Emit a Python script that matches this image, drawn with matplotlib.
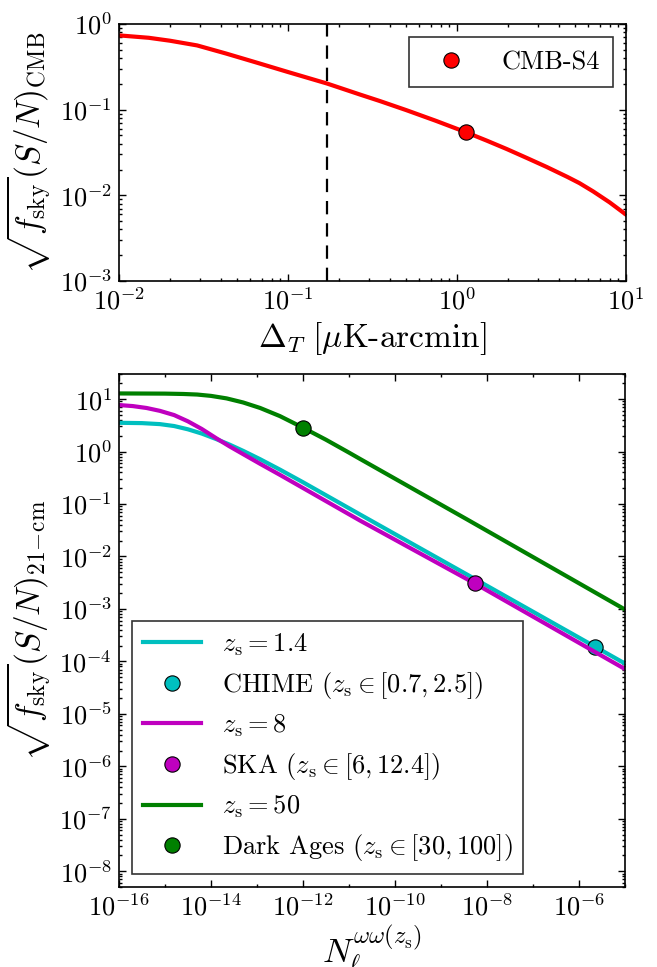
import numpy as np
import matplotlib
matplotlib.use("Agg")
import matplotlib.pyplot as plt
from matplotlib.ticker import LogLocator, NullFormatter

plt.rcParams['font.family'] = 'serif'
plt.rcParams['font.serif'] = ['cmr10', 'DejaVu Serif']
plt.rcParams['mathtext.fontset'] = 'cm'
plt.rcParams['axes.unicode_minus'] = False
plt.rcParams['axes.formatter.use_mathtext'] = True

# top panel: CMB
dT = [0.01, 0.015, 0.02, 0.029, 0.043, 0.065, 0.1, 0.17, 0.267, 0.35, 0.5, 0.75, 1.125, 1.5,
      1.97, 2.6, 3.4, 4.5, 5.3, 6.4, 8.0, 10.0]
sn_cmb = [0.736, 0.690, 0.638, 0.562, 0.452, 0.355, 0.275, 0.202, 0.150, 0.126, 0.0989, 0.0741,
          0.0547, 0.0435, 0.0347, 0.0272, 0.0214, 0.0164, 0.0139, 0.0111, 0.00828, 0.00596]
s4_dT = 1.125
s4_sn = 0.0543
dT_line = 0.17

# bottom panel: 21-cm
N_c = [1e-16, 10**-15.5, 10**-15.11, 10**-14.8, 10**-14.5, 10**-14.2, 10**-13.88, 10**-13.6,
       10**-13.3, 10**-12.93, 10**-12.5, 1e-12, 10**-10.76, 10**-8.26, 10**-5.65, 1e-5]
sn_c = [3.53, 3.48, 3.33, 3.06, 2.65, 2.20, 1.72, 1.36, 1.03, 0.713, 0.452, 0.260, 0.0632,
        3.72e-3, 1.91e-4, 9.12e-5]
N_m = [1e-16, 10**-15.7, 10**-15.4, 10**-15.11, 10**-14.8, 10**-14.5, 10**-14.2, 10**-13.88,
       10**-13.6, 10**-13.3, 10**-12.93, 10**-12.5, 1e-12, 10**-10.76, 10**-8.26, 1e-5]
sn_m = [7.69, 7.35, 6.76, 5.96, 4.95, 3.76, 2.69, 1.78, 1.26, 0.891, 0.582, 0.359, 0.202, 0.0484,
        3.05e-3, 7.16e-5]
N_g = [1e-16, 1e-15, 10**-14.6, 10**-14.3, 1e-14, 10**-13.66, 10**-13.3, 10**-12.93, 10**-12.5,
       1e-12, 10**-11.5, 1e-11, 10**-10.76, 10**-8.44, 1e-5]
sn_g = [12.8, 12.7, 12.5, 12.2, 11.5, 10.3, 8.61, 6.76, 4.73, 2.85, 1.68, 0.955, 0.724, 0.0513, 9.77e-4]
chime = (2.24e-6, 1.87e-4)
ska = (5.5e-9, 3.1e-3)
dark = (1e-12, 2.8)

fig = plt.figure(figsize=(6.57, 9.67), dpi=100)
fig.patch.set_facecolor('white')

def style(ax):
    ax.tick_params(which='both', direction='in', top=True, right=True, labelsize=19, width=1, pad=5)
    ax.tick_params(which='major', length=5)
    ax.tick_params(which='minor', length=2.5)
    for s in ax.spines.values():
        s.set_linewidth(1.2)

ax1 = fig.add_axes([0.1811, 0.7094, 0.7717, 0.2658])
ax1.plot(dT, sn_cmb, color='r', lw=3)
ax1.axvline(dT_line, color='k', ls='--', lw=1.6, dashes=(6, 4))
ax1.plot([s4_dT], [s4_sn], 'o', color='r', mec='k', mew=0.8, ms=11, ls='none', label='CMB-S4')
ax1.set_xscale('log')
ax1.set_yscale('log')
ax1.set_xlim(1e-2, 1e1)
ax1.set_ylim(1e-3, 1e0)
ax1.set_xlabel(r'$\Delta_T\ [\mu$K-arcmin$]$', fontsize=24)
ax1.set_ylabel(r'$\sqrt{f_{\rm sky}}(S/N)_{\rm CMB}$', fontsize=24)
style(ax1)
leg1 = ax1.legend(loc='upper right', numpoints=1, fontsize=19, fancybox=False,
                  handlelength=2.2, handletextpad=0.8, borderaxespad=0.5, borderpad=0.5)
leg1.get_frame().set_edgecolor('k')
leg1.get_frame().set_linewidth(1.2)

ax2 = fig.add_axes([0.1811, 0.0827, 0.770, 0.5305])
ax2.plot(N_c, sn_c, color='c', lw=3, label=r'$z_{\rm s}=1.4$')
ax2.plot([chime[0]], [chime[1]], 'o', color='c', mec='k', mew=0.8, ms=11, ls='none',
         label=r'CHIME $(z_{\rm s}\in[0.7,2.5])$')
ax2.plot(N_m, sn_m, color='m', lw=3, label=r'$z_{\rm s}=8$')
ax2.plot([ska[0]], [ska[1]], 'o', color='m', mec='k', mew=0.8, ms=11, ls='none',
         label=r'SKA $(z_{\rm s}\in[6,12.4])$')
ax2.plot(N_g, sn_g, color='g', lw=3, label=r'$z_{\rm s}=50$')
ax2.plot([dark[0]], [dark[1]], 'o', color='g', mec='k', mew=0.8, ms=11, ls='none',
         label=r'Dark Ages $(z_{\rm s}\in[30,100])$')
ax2.set_xscale('log')
ax2.set_yscale('log')
ax2.set_xlim(1e-16, 1e-5)
ax2.set_ylim(5e-9, 3e1)
ax2.xaxis.set_major_locator(LogLocator(base=100.0, numticks=20))
ax2.xaxis.set_minor_locator(LogLocator(base=10.0, numticks=20))
ax2.xaxis.set_minor_formatter(NullFormatter())
ax2.yaxis.set_major_locator(LogLocator(base=10.0, numticks=20))
ax2.yaxis.set_minor_locator(LogLocator(base=10.0, subs=np.arange(2, 10), numticks=20))
ax2.yaxis.set_minor_formatter(NullFormatter())
ax2.set_xlabel(r'$N_\ell^{\omega\omega(z_{\rm s})}$', fontsize=25, labelpad=2)
ax2.set_ylabel(r'$\sqrt{f_{\rm sky}}(S/N)_{21\!-\!{\rm cm}}$', fontsize=24)
style(ax2)
leg2 = ax2.legend(loc='lower left', numpoints=1, fontsize=19, fancybox=False,
                  handlelength=2.2, handletextpad=0.8, borderaxespad=0.5,
                  borderpad=0.4, labelspacing=0.45)
leg2.get_frame().set_edgecolor('k')
leg2.get_frame().set_linewidth(1.2)

fig.savefig('out.png', dpi=100, facecolor='white')
